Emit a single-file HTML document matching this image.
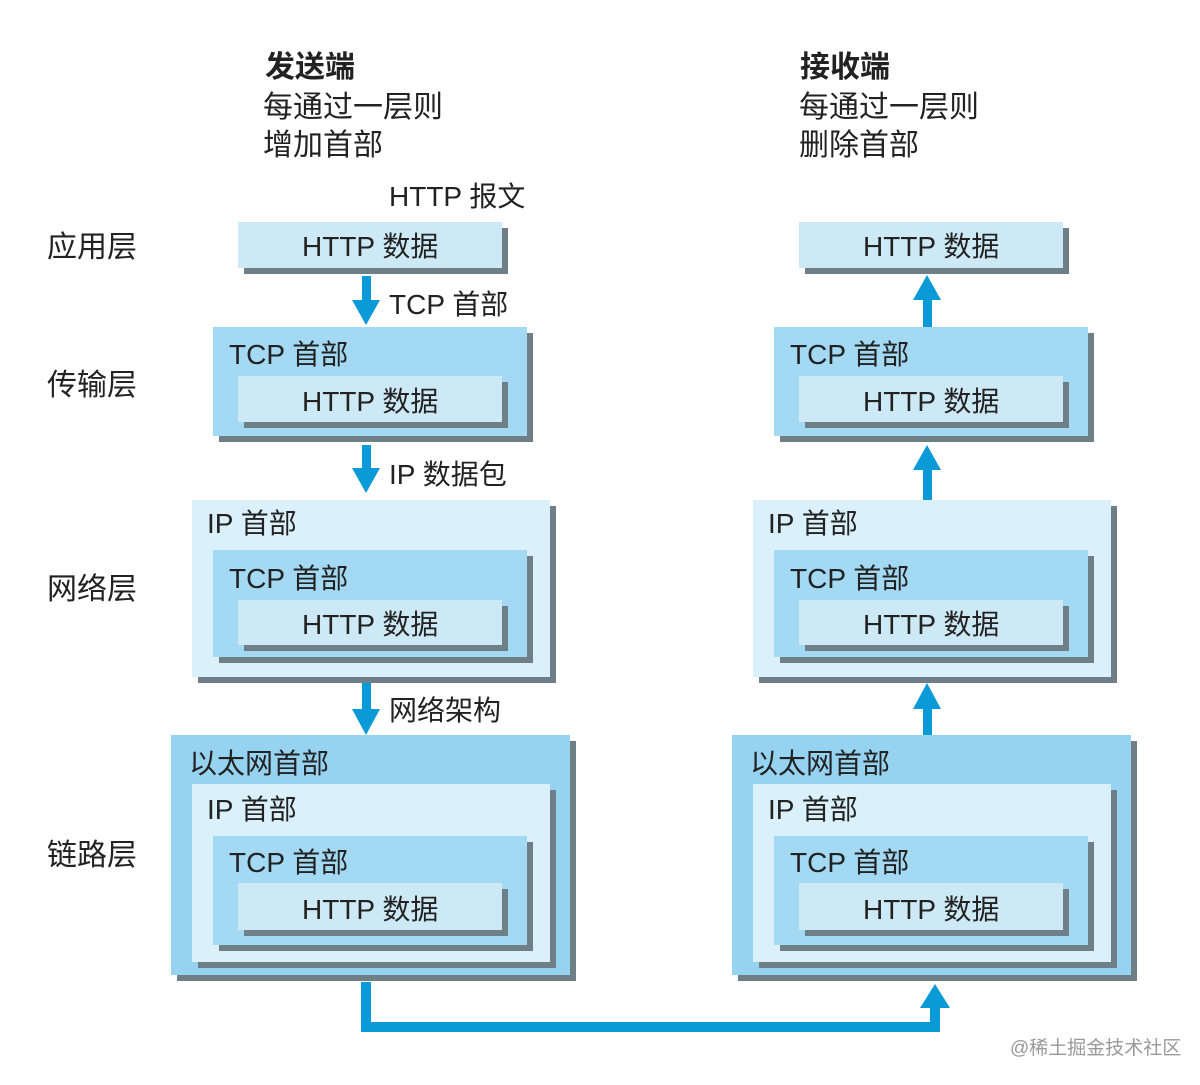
<!DOCTYPE html>
<html><head><meta charset="utf-8"><style>
html,body{margin:0;padding:0;background:#fff;}
svg{display:block}
text{font-family:"Liberation Sans","Noto Sans CJK SC",sans-serif;fill:#222;font-size:28px}
.big{font-size:30px}
.sh{fill:#6e7f87}
.eth{fill:#96d3f0}.ip{fill:#daf0fa}.tcp{fill:#a3d9f2}.http{fill:#cde9f5}
.ar{fill:#0a9ad8}
</style></head><body>
<svg width="1200" height="1085" viewBox="0 0 1200 1085" xmlns="http://www.w3.org/2000/svg">
<defs>
<g id="app">
  <rect class="sh" x="244" y="228" width="264" height="46"/><rect class="http" x="238" y="222" width="264" height="46"/>
  <text x="302" y="256">HTTP 数据</text>
</g>
<g id="tcpbox">
  <rect class="sh" x="219" y="333" width="314" height="109"/><rect class="tcp" x="213" y="327" width="314" height="109"/>
  <text x="229" y="364">TCP 首部</text>
  <rect class="sh" x="244" y="382" width="264" height="46"/><rect class="http" x="238" y="376" width="264" height="46"/>
  <text x="302" y="411">HTTP 数据</text>
</g>
<g id="ipbox">
  <rect class="sh" x="198" y="506" width="358" height="177"/><rect class="ip" x="192" y="500" width="358" height="177"/>
  <text x="207" y="533">IP 首部</text>
  <rect class="sh" x="219" y="556" width="314" height="107"/><rect class="tcp" x="213" y="550" width="314" height="107"/>
  <text x="229" y="588">TCP 首部</text>
  <rect class="sh" x="244" y="606" width="264" height="45"/><rect class="http" x="238" y="600" width="264" height="45"/>
  <text x="302" y="634">HTTP 数据</text>
</g>
<g id="ethbox">
  <rect class="sh" x="177" y="741" width="399" height="240"/><rect class="eth" x="171" y="735" width="399" height="240"/>
  <text x="189" y="773">以太网首部</text>
  <rect class="sh" x="198" y="790" width="358" height="178"/><rect class="ip" x="192" y="784" width="358" height="178"/>
  <text x="207" y="819">IP 首部</text>
  <rect class="sh" x="219" y="842" width="314" height="109"/><rect class="tcp" x="213" y="836" width="314" height="109"/>
  <text x="229" y="872">TCP 首部</text>
  <rect class="sh" x="244" y="889" width="264" height="47"/><rect class="http" x="238" y="883" width="264" height="47"/>
  <text x="302" y="919">HTTP 数据</text>
</g>
</defs>

<text class="big" x="265" y="77" style="font-weight:bold">发送端</text>
<text class="big" x="263" y="117">每通过一层则</text>
<text class="big" x="263" y="155">增加首部</text>
<text x="389" y="206">HTTP 报文</text>

<text class="big" x="800" y="77" style="font-weight:bold">接收端</text>
<text class="big" x="799" y="117">每通过一层则</text>
<text class="big" x="799" y="155">删除首部</text>

<text class="big" x="47" y="257">应用层</text>
<text class="big" x="47" y="395">传输层</text>
<text class="big" x="47" y="599">网络层</text>
<text class="big" x="47" y="865">链路层</text>

<use href="#app"/><use href="#tcpbox"/><use href="#ipbox"/><use href="#ethbox"/>
<g transform="translate(561,0)"><use href="#app"/><use href="#tcpbox"/><use href="#ipbox"/><use href="#ethbox"/></g>

<rect class="ar" x="362" y="276" width="9" height="28"/><polygon class="ar" points="352,300 380,300 366,325"/>
<text x="389" y="314">TCP 首部</text>
<rect class="ar" x="362" y="445" width="9" height="26"/><polygon class="ar" points="352,468 380,468 366,493"/>
<text x="389" y="484">IP 数据包</text>
<rect class="ar" x="362" y="683" width="9" height="29"/><polygon class="ar" points="352,709 380,709 366,735"/>
<text x="389" y="720">网络架构</text>

<polygon class="ar" points="913,300 941,300 927,275"/><rect class="ar" x="923" y="298" width="9" height="29"/>
<polygon class="ar" points="913,470 941,470 927,445"/><rect class="ar" x="923" y="468" width="9" height="32"/>
<polygon class="ar" points="913,709 941,709 927,683"/><rect class="ar" x="923" y="707" width="9" height="28"/>

<path d="M366 982 V1027 H935 V1000" fill="none" stroke="#0a9ad8" stroke-width="10"/>
<polygon class="ar" points="920,1008 950,1008 935,984"/>

<text x="1010" y="1054" style="font-size:19px;fill:#999">@稀土掘金技术社区</text>
</svg>
</body></html>
